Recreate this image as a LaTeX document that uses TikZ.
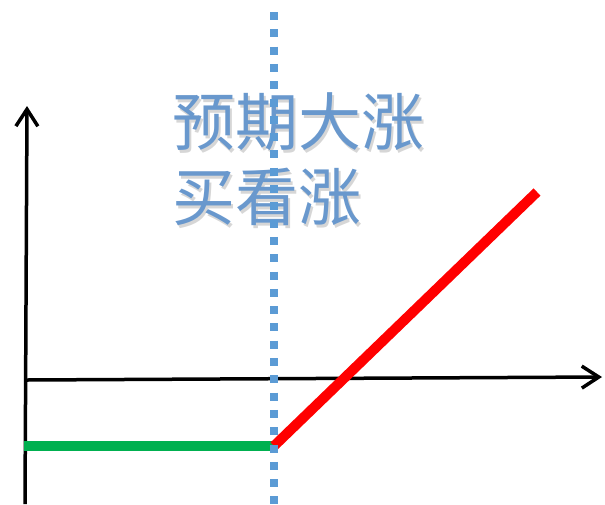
\documentclass[tikz,border=0pt]{standalone}
\usepackage{fontspec}
\newfontfamily\cjk{Noto Sans CJK SC}
\usetikzlibrary{arrows.meta}
\definecolor{dotblue}{RGB}{91,155,213}
\definecolor{txtblue}{RGB}{105,152,205}
\definecolor{pgreen}{RGB}{0,176,80}
\tikzset{
  axis/.style={line width=3.5pt, -{Straight Barb[length=17pt,width=22pt,line width=3.5pt]}},
  title/.style={anchor=west, inner sep=0pt, font=\cjk\fontsize{63}{63}\selectfont, text=txtblue},
  shadowtxt/.style={title, text=black!40, opacity=0.4},
}
\begin{document}
\begin{tikzpicture}[x=1pt,y=-1pt]
\useasboundingbox (0,0) rectangle (605,504);
% axes
\coordinate (yb) at (25,504);
\coordinate (yt) at (27,106);
\coordinate (xl) at (27,380);
\coordinate (xr) at (602,377);
\draw[axis] (yb) -- (yt);
\draw[axis] (xl) -- (xr);
% title text with shadow
\node[shadowtxt] (s1) at (174.5,124.5) {预期大涨};
\node[shadowtxt] (s2) at (174.5,199.5) {买看涨};
\node[title] (t1) at (172,122) {预期大涨};
\node[title] (t2) at (172,197) {买看涨};
% payoff
\coordinate (g0) at (24,446);
\coordinate (k) at (274,446);
\coordinate (r1) at (537,192);
\draw[pgreen, line width=10pt] (g0) -- (k);
\draw[red, line width=10pt] (k) -- (r1);
% strike dotted line
\coordinate (dt) at (274,12);
\coordinate (db) at (274,504);
\draw[dotblue, line width=8pt, dash pattern=on 8pt off 9.3pt] (dt) -- (db);
\end{tikzpicture}
\end{document}
